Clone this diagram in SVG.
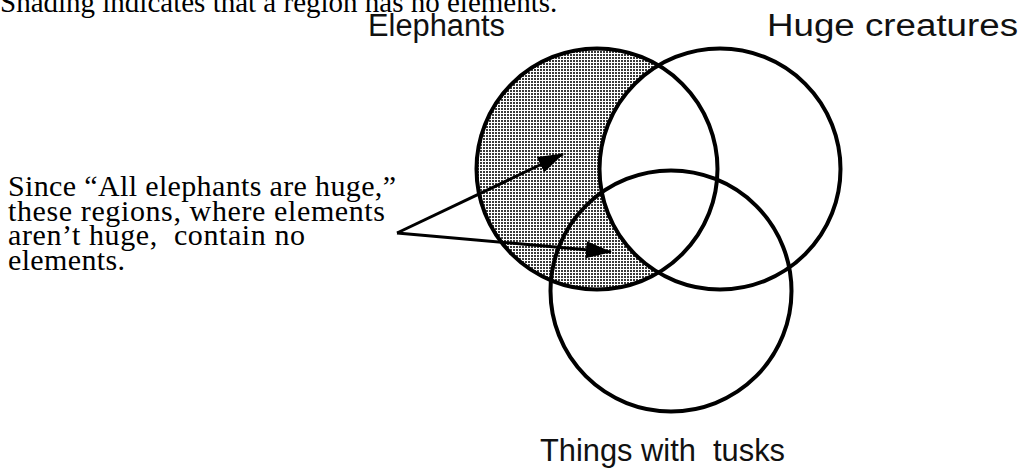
<svg xmlns="http://www.w3.org/2000/svg" width="1028" height="470" viewBox="0 0 1028 470">
  <style>
    .serif { font-family: "Liberation Serif", "Times New Roman", serif; font-size: 30px; fill: #000; }
    .sans { font-family: "Liberation Sans", Arial, sans-serif; font-size: 31px; fill: #111; }
    .ring { fill: none; stroke: #000; stroke-width: 4; }
    .arrow { stroke: #000; stroke-width: 3; fill: none; }
  </style>
  <defs>
    <pattern id="dots" x="0" y="0" width="3" height="3" patternUnits="userSpaceOnUse">
      <rect x="0" y="0" width="3" height="3" fill="#fff"/>
      <rect x="0" y="0" width="2" height="2" fill="#3a3a3a"/>
    </pattern>
    <marker id="head" viewBox="0 0 26 17" refX="25" refY="8.5" markerWidth="26" markerHeight="17" markerUnits="userSpaceOnUse" orient="auto">
      <path d="M0,0 L26,8.5 L0,17 Z" fill="#000"/>
    </marker>
  </defs>
  <rect width="1028" height="470" fill="#fff"/>

  <text class="serif" x="0" y="12" style="font-size:29px">Shading indicates that a region has no elements.</text>

  <g id="shading">
    <circle cx="597" cy="169" r="120.5" fill="url(#dots)"/>
    <circle cx="720" cy="169" r="120.5" fill="#fff"/>
  </g>

  <g id="elephants">
    <circle class="ring" cx="597" cy="169" r="120.5"/>
    <text class="sans" x="368" y="36" textLength="137" lengthAdjust="spacingAndGlyphs">Elephants</text>
  </g>
  <g id="huge-creatures">
    <circle class="ring" cx="720" cy="169" r="120.5"/>
    <text class="sans" x="767" y="36" textLength="251" lengthAdjust="spacingAndGlyphs">Huge creatures</text>
  </g>
  <g id="things-with-tusks">
    <circle class="ring" cx="671" cy="291" r="120.5"/>
    <text class="sans" x="540" y="461" textLength="245" lengthAdjust="spacingAndGlyphs" xml:space="preserve">Things with  tusks</text>
  </g>

  <g id="note">
    <text class="serif" x="8" y="196" textLength="388" lengthAdjust="spacing">Since “All elephants are huge,”</text>
    <text class="serif" x="8" y="221" textLength="377" lengthAdjust="spacing">these regions, where elements</text>
    <text class="serif" x="8" y="245" textLength="297" lengthAdjust="spacing" xml:space="preserve">aren’t huge,  contain no</text>
    <text class="serif" x="8" y="270" textLength="117" lengthAdjust="spacing">elements.</text>
  </g>

  <g id="connectors">
    <line class="arrow" x1="397" y1="233" x2="563" y2="154" marker-end="url(#head)"/>
    <line class="arrow" x1="397" y1="233" x2="611" y2="252" marker-end="url(#head)"/>
  </g>
</svg>
